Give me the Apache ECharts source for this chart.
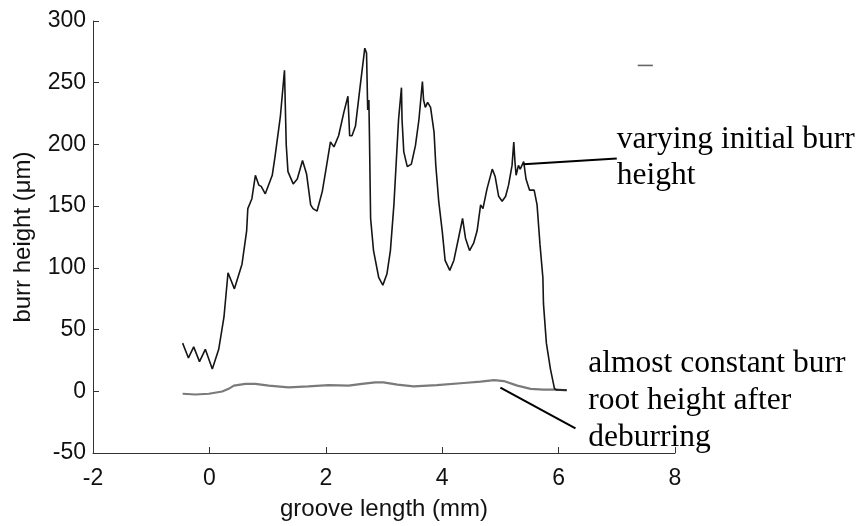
<!DOCTYPE html>
<html>
<head>
<meta charset="utf-8">
<script src="https://cdn.jsdelivr.net/npm/echarts@6/dist/echarts.min.js"></script>
<style>
  html, body { margin: 0; padding: 0; background: #fff; }
  #chart { width: 863px; height: 526px; }
</style>
</head>
<body>
<div id="chart"></div>
<script>
// Initial burr height along the groove (mm, µm)
const initialX = [-0.46, -0.36, -0.27, -0.17, -0.07, 0.05, 0.16, 0.25, 0.32, 0.43, 0.56, 0.64, 0.66, 0.73, 0.79, 0.85, 0.89, 0.96, 1.08, 1.13, 1.22, 1.29, 1.31, 1.32, 1.35, 1.44, 1.51, 1.60, 1.67, 1.74, 1.78, 1.85, 1.94, 2.00, 2.08, 2.14, 2.22, 2.31, 2.38, 2.41, 2.45, 2.51, 2.59, 2.67, 2.70, 2.72, 2.74, 2.75, 2.77, 2.82, 2.91, 2.98, 3.05, 3.11, 3.17, 3.25, 3.30, 3.31, 3.34, 3.40, 3.47, 3.54, 3.60, 3.66, 3.68, 3.71, 3.75, 3.80, 3.86, 3.89, 3.94, 4.00, 4.05, 4.13, 4.20, 4.28, 4.35, 4.40, 4.47, 4.54, 4.60, 4.66, 4.70, 4.77, 4.86, 4.91, 4.97, 5.03, 5.09, 5.14, 5.20, 5.23, 5.25, 5.27, 5.31, 5.34, 5.40, 5.44, 5.50, 5.58, 5.63, 5.68, 5.73, 5.74, 5.79, 5.86, 5.93, 5.97, 6.05, 6.14];
const initialY = [39, 27, 36, 24, 34, 18, 34, 60, 96, 83, 103, 130, 148, 156, 175, 167, 166, 160, 175, 191, 223, 260, 220, 200, 178, 168, 172, 187, 176, 151, 148, 146, 162, 179, 202, 198, 207, 226, 239, 207, 207, 215, 247, 278, 274, 228, 236, 207, 140, 114, 92, 86, 95, 114, 151, 220, 246, 220, 194, 182, 184, 199, 220, 251, 236, 230, 234, 230, 210, 183, 154, 130, 106, 98, 106, 124, 140, 124, 114, 120, 130, 151, 148, 164, 180, 174, 158, 154, 158, 167, 183, 202, 186, 175, 183, 180, 186, 172, 163, 163, 151, 119, 92, 71, 39, 18, 2, 1, 1, 1];

// Burr root height after deburring
const rootX = [-0.46, -0.24, -0.01, 0.22, 0.33, 0.42, 0.62, 0.79, 1.02, 1.36, 1.70, 2.05, 2.39, 2.62, 2.85, 2.99, 3.23, 3.51, 3.91, 4.37, 4.66, 4.89, 5.06, 5.29, 5.52, 5.74, 5.97, 6.14];
const rootY = [-2, -2.6, -2, -0.2, 2, 4.6, 6, 6, 4.6, 3.2, 4, 5, 4.6, 6, 7.2, 7.2, 5.4, 4, 5, 6.7, 7.8, 9, 8.3, 4.6, 2, 1.4, 1.4, 0.8];

// Axis ticks
const xTicks = [-2, 0, 2, 4, 6, 8];
const yTicks = [-50, 0, 50, 100, 150, 200, 250, 300];

const pairs = (xs, ys) => xs.map((x, i) => [x, ys[i]]);

const axisColor = '#333';
const textColor = '#111';
const sansFont = '"Liberation Sans", Arial, sans-serif';
const serifFont = '"Liberation Serif", "Times New Roman", serif';

const chart = echarts.init(document.getElementById('chart'), null, { renderer: 'canvas' });

chart.setOption({
  animation: false,
  backgroundColor: '#fff',
  grid: { left: 93, right: 188, top: 21, bottom: 67 },
  xAxis: {
    type: 'value',
    min: xTicks[0],
    max: xTicks[xTicks.length - 1],
    interval: xTicks[1] - xTicks[0],
    name: 'groove length (mm)',
    nameLocation: 'middle',
    nameGap: 44,
    nameTextStyle: { fontFamily: sansFont, fontSize: 24, color: textColor },
    axisLine: { show: true, onZero: false, lineStyle: { color: axisColor, width: 1 } },
    axisTick: { show: true, inside: true, length: 6, lineStyle: { color: axisColor } },
    axisLabel: { fontFamily: sansFont, fontSize: 23, color: textColor, margin: 14 },
    splitLine: { show: false }
  },
  yAxis: {
    type: 'value',
    min: yTicks[0],
    max: yTicks[yTicks.length - 1],
    interval: yTicks[1] - yTicks[0],
    name: 'burr height (\u03bcm)',
    nameLocation: 'middle',
    nameGap: 58,
    nameTextStyle: { fontFamily: sansFont, fontSize: 24, color: textColor },
    axisLine: { show: true, onZero: false, lineStyle: { color: axisColor, width: 1 } },
    axisTick: { show: true, inside: true, length: 6, lineStyle: { color: axisColor } },
    axisLabel: { fontFamily: sansFont, fontSize: 23, color: textColor, margin: 7 },
    splitLine: { show: false }
  },
  series: [
    {
      name: 'root height',
      type: 'line',
      data: pairs(rootX, rootY),
      showSymbol: false,
      lineStyle: { color: '#7a7a7a', width: 2.2 },
      z: 2
    },
    {
      name: 'initial burr height',
      type: 'line',
      data: pairs(initialX, initialY),
      showSymbol: false,
      lineStyle: { color: '#151515', width: 1.6 },
      z: 3
    }
  ]
});

// Callouts anchored in data space
const callouts = [
  { from: [5.40, 184], to: [7.0, 188.5], text: 'varying initial burr\nheight', textAt: [7.0, 219] },
  { from: [5.0, 3], to: [6.29, -30], text: 'almost constant burr\nroot height after\ndeburring', textAt: [6.51, 37] }
];

const toPx = (p) => chart.convertToPixel({ gridIndex: 0 }, p);
const graphics = [];
callouts.forEach((c) => {
  const a = toPx(c.from);
  const b = toPx(c.to);
  const t = toPx(c.textAt);
  graphics.push({
    type: 'line',
    shape: { x1: a[0], y1: a[1], x2: b[0], y2: b[1] },
    style: { stroke: '#000', lineWidth: 2 },
    z: 10
  });
  graphics.push({
    type: 'text',
    x: t[0],
    y: t[1],
    style: {
      text: c.text,
      font: '31.5px ' + serifFont,
      fill: '#000',
      lineHeight: 36.7,
      textAlign: 'left',
      textVerticalAlign: 'top'
    },
    z: 10
  });
});

// small stroke near the top right of the plot
const d1 = toPx([7.36, 264]);
const d2 = toPx([7.62, 264]);
graphics.push({
  type: 'line',
  shape: { x1: d1[0], y1: d1[1], x2: d2[0], y2: d2[1] },
  style: { stroke: '#666', lineWidth: 1.6 },
  z: 10
});

chart.setOption({ graphic: graphics });
</script>
</body>
</html>
